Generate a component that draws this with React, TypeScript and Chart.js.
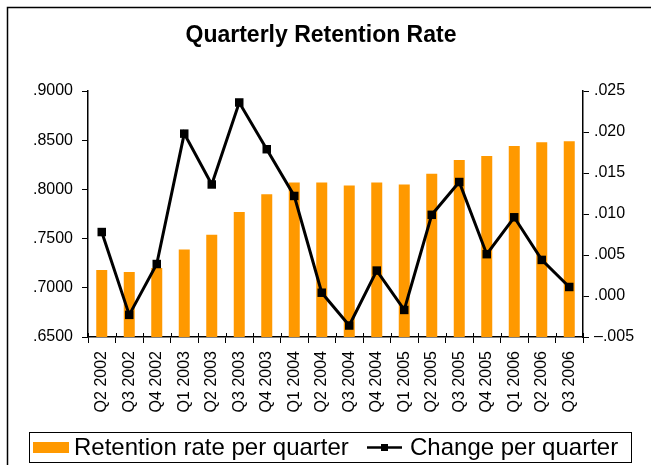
import React, { useEffect, useRef } from "react";
import { Chart, registerables } from "chart.js";

Chart.register(...registerables);

const categories = [
  "Q2 2002", "Q3 2002", "Q4 2002", "Q1 2003", "Q2 2003", "Q3 2003",
  "Q4 2003", "Q1 2004", "Q2 2004", "Q3 2004", "Q4 2004", "Q1 2005",
  "Q2 2005", "Q3 2005", "Q4 2005", "Q1 2006", "Q2 2006", "Q3 2006",
];

const retentionRate = [
  0.718, 0.716, 0.72, 0.739, 0.754, 0.777, 0.795, 0.807, 0.807,
  0.804, 0.807, 0.805, 0.816, 0.83, 0.834, 0.844, 0.848, 0.849,
];

const changePerQuarter = [
  0.0078, -0.0023, 0.0039, 0.0198, 0.0136, 0.0236, 0.0179, 0.0122, 0.0004,
  -0.0036, 0.0031, -0.0017, 0.0099, 0.0139, 0.0051, 0.0096, 0.0044, 0.0011,
];

const titleText = "Quarterly Retention Rate";
const barLegend = "Retention rate per quarter";
const lineLegend = "Change per quarter";

const FONT = "'Liberation Sans', Arial, Helvetica, sans-serif";
const ORANGE = "#FF9900";

const fmtLeft = (v: number) => {
  const s = (Math.round(v * 10000) / 10000).toFixed(4);
  return s.replace(/^0/, "");
};
const fmtRight = (v: number) => {
  const r = Math.round(v * 1000) / 1000;
  const s = Math.abs(r).toFixed(3).replace(/^0/, "");
  return r < 0 ? "\u2013" + s : s;
};

const decorPlugin = {
  id: "decor",
  afterDraw(chart: any) {
    const ctx = chart.ctx;
    const area = chart.chartArea;
    ctx.save();
    // outer border
    ctx.strokeStyle = "#000";
    ctx.lineWidth = 1.5;
    ctx.beginPath();
    ctx.moveTo(7.5, 470);
    ctx.lineTo(7.5, 7.5);
    ctx.lineTo(660, 7.5);
    ctx.stroke();

    // inner x ticks crossing the axis
    const xs = chart.scales.x;
    ctx.lineWidth = 1;
    ctx.beginPath();
    for (let i = 0; i <= categories.length; i++) {
      const px = Math.round(xs.left + (i * (xs.right - xs.left)) / categories.length) + 0.5;
      ctx.moveTo(px, area.bottom);
      ctx.lineTo(px, area.bottom - 4);
    }
    ctx.stroke();

    // title
    ctx.fillStyle = "#000";
    ctx.font = "bold 23px " + FONT;
    ctx.textAlign = "center";
    ctx.textBaseline = "middle";
    ctx.fillText(titleText, 321, 36);

    // legend box
    ctx.lineWidth = 1;
    ctx.strokeRect(29.5, 432.5, 602, 30);
    ctx.fillStyle = ORANGE;
    ctx.fillRect(33, 442, 36, 11);
    ctx.fillStyle = "#000";
    ctx.font = "24px " + FONT;
    ctx.textAlign = "left";
    ctx.textBaseline = "middle";
    ctx.fillText(barLegend, 74, 448);
    ctx.lineWidth = 2.5;
    ctx.beginPath();
    ctx.moveTo(367, 447.5);
    ctx.lineTo(402, 447.5);
    ctx.stroke();
    ctx.fillRect(381, 444, 7, 7);
    ctx.fillText(lineLegend, 410, 448);
    ctx.restore();
  },
};

export default function App() {
  const ref = useRef<HTMLCanvasElement | null>(null);
  useEffect(() => {
    if (!ref.current) return;
    const chart = new Chart(ref.current, {
      type: "bar",
      data: {
        labels: categories,
        datasets: [
          {
            type: "line",
            label: lineLegend,
            data: changePerQuarter,
            yAxisID: "y1",
            borderColor: "#000",
            backgroundColor: "#000",
            borderWidth: 3,
            pointStyle: "rect",
            pointRadius: 6,
            pointBorderWidth: 0,
            pointBackgroundColor: "#000",
            tension: 0,
            order: 0,
          } as any,
          {
            type: "bar",
            label: barLegend,
            data: retentionRate,
            yAxisID: "y",
            backgroundColor: ORANGE,
            borderWidth: 0,
            barPercentage: 0.4,
            categoryPercentage: 1,
            order: 1,
          },
        ],
      },
      options: {
        animation: false,
        responsive: false,
        maintainAspectRatio: false,
        layout: { padding: { top: 91, left: 0, right: 0, bottom: 0 } },
        plugins: {
          legend: { display: false },
          title: { display: false },
          tooltip: { enabled: false },
        },
        scales: {
          x: {
            offset: true,
            grid: {
              display: true,
              drawOnChartArea: false,
              tickLength: 6,
              color: "#000",
              lineWidth: 1,
              offset: true,
            },
            border: { display: true, color: "#000", width: 1.5 },
            ticks: {
              color: "#000",
              font: { family: FONT, size: 16 },
              maxRotation: 90,
              minRotation: 90,
              padding: 8,
              autoSkip: false,
            },
            afterFit: (s: any) => {
              s.height = 128;
            },
          },
          y: {
            position: "left",
            min: 0.65,
            max: 0.9,
            grid: {
              display: true,
              drawOnChartArea: false,
              tickLength: 6,
              color: "#000",
            },
            border: { display: true, color: "#000", width: 1.5 },
            ticks: {
              stepSize: 0.05,
              color: "#000",
              font: { family: FONT, size: 16 },
              padding: 9,
              callback: (v: any) => fmtLeft(Number(v)),
            },
            afterFit: (s: any) => {
              s.width = 88;
            },
          },
          y1: {
            position: "right",
            min: -0.005,
            max: 0.025,
            grid: {
              display: true,
              drawOnChartArea: false,
              tickLength: 6,
              color: "#000",
            },
            border: { display: true, color: "#000", width: 1.5 },
            ticks: {
              stepSize: 0.005,
              color: "#000",
              font: { family: FONT, size: 16 },
              padding: 5,
              callback: (v: any) => fmtRight(Number(v)),
            },
            afterFit: (s: any) => {
              s.width = 68;
            },
          },
        },
      },
      plugins: [decorPlugin],
    });
    return () => chart.destroy();
  }, []);
  return (
    <div style={{ position: "absolute", left: 0, top: 0, width: 651, height: 465, background: "#fff" }}>
      <canvas ref={ref} width={651} height={465} style={{ width: 651, height: 465, display: "block" }} />
    </div>
  );
}
